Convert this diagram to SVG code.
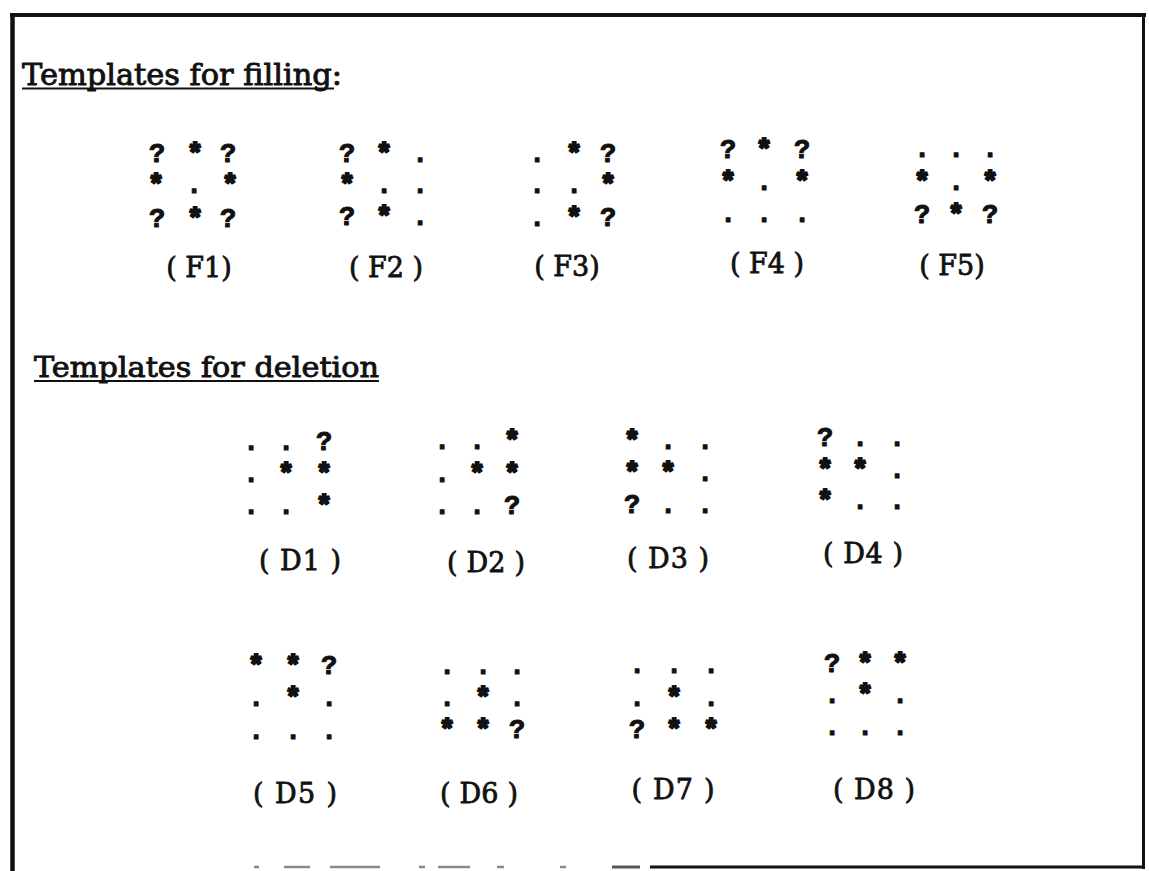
<svg xmlns="http://www.w3.org/2000/svg" width="1149" height="871" viewBox="0 0 1149 871">
<style>
.hd{font-family:"DejaVu Serif","Liberation Serif",serif;font-size:30px;fill:#111;stroke:#111;stroke-width:0.9}
.lb{font-family:"DejaVu Serif","Liberation Serif",serif;font-size:27px;fill:#111;stroke:#111;stroke-width:0.8;text-anchor:middle}
.g{font-family:"Liberation Mono","Courier New",monospace;font-weight:bold;font-size:27px;fill:#111;stroke:#111;stroke-width:1;stroke-linejoin:round;text-anchor:middle}
.s{stroke-width:2.2}
.ul{stroke:#111;stroke-width:2.2}
.bd{stroke:#111;fill:none}
</style>
<rect width="1149" height="871" fill="#fff"/>
<g id="frame">
<line class="bd" x1="10" y1="15" x2="1146" y2="15" stroke-width="4"/>
<line class="bd" x1="12.5" y1="13" x2="12.5" y2="871" stroke-width="4.5"/>
<line class="bd" x1="1143.5" y1="13" x2="1143.5" y2="869" stroke-width="3"/>
<g stroke="#888" stroke-width="2.5">
<line x1="254" y1="867" x2="259" y2="867"/>
<line x1="284" y1="867" x2="310" y2="867"/>
<line x1="330" y1="867" x2="380" y2="867"/>
<line x1="419" y1="867" x2="425" y2="867"/>
<line x1="438" y1="867" x2="470" y2="867"/>
<line x1="497" y1="867" x2="504" y2="867"/>
<line x1="560" y1="867" x2="566" y2="867"/>
</g>
<line x1="612" y1="867" x2="640" y2="867" stroke="#555" stroke-width="3"/>
<line x1="650" y1="867" x2="1145" y2="867" stroke="#111" stroke-width="3"/>
</g>
<g id="title-filling">
<text class="hd" x="22" y="85" textLength="320" lengthAdjust="spacingAndGlyphs">Templates for filling:</text>
<line class="ul" x1="22" y1="88.5" x2="334" y2="88.5"/>
</g>
<g id="title-deletion">
<text class="hd" x="34" y="377" style="font-size:28.5px" textLength="345" lengthAdjust="spacingAndGlyphs">Templates for deletion</text>
<line class="ul" x1="34" y1="381" x2="379" y2="381"/>
</g>
<g id="F1">
<text class="g" y="162"><tspan x="157">?</tspan><tspan class="s" x="195">*</tspan><tspan x="228">?</tspan></text>
<text class="g" y="193"><tspan class="s" x="156">*</tspan><tspan x="194">.</tspan><tspan class="s" x="230">*</tspan></text>
<text class="g" y="227"><tspan x="157">?</tspan><tspan class="s" x="195">*</tspan><tspan x="228">?</tspan></text>
<text class="lb" x="199" y="277">( F1)</text>
</g>
<g id="F2">
<text class="g" y="162"><tspan x="347">?</tspan><tspan class="s" x="384">*</tspan><tspan x="420">.</tspan></text>
<text class="g" y="193"><tspan class="s" x="347">*</tspan><tspan x="384">.</tspan><tspan x="420">.</tspan></text>
<text class="g" y="225"><tspan x="347">?</tspan><tspan class="s" x="384">*</tspan><tspan x="420">.</tspan></text>
<text class="lb" x="386" y="277">( F2 )</text>
</g>
<g id="F3">
<text class="g" y="162"><tspan x="537">.</tspan><tspan class="s" x="574">*</tspan><tspan x="608">?</tspan></text>
<text class="g" y="193"><tspan x="537">.</tspan><tspan x="574">.</tspan><tspan class="s" x="608">*</tspan></text>
<text class="g" y="226"><tspan x="537">.</tspan><tspan class="s" x="574">*</tspan><tspan x="608">?</tspan></text>
<text class="lb" x="567" y="276">( F3)</text>
</g>
<g id="F4">
<text class="g" y="158"><tspan x="728">?</tspan><tspan class="s" x="764">*</tspan><tspan x="802">?</tspan></text>
<text class="g" y="190"><tspan class="s" x="728">*</tspan><tspan x="764">.</tspan><tspan class="s" x="802">*</tspan></text>
<text class="g" y="222"><tspan x="728">.</tspan><tspan x="764">.</tspan><tspan x="802">.</tspan></text>
<text class="lb" x="767" y="273">( F4 )</text>
</g>
<g id="F5">
<text class="g" y="157"><tspan x="922">.</tspan><tspan x="956">.</tspan><tspan x="990">.</tspan></text>
<text class="g" y="190"><tspan class="s" x="922">*</tspan><tspan x="956">.</tspan><tspan class="s" x="990">*</tspan></text>
<text class="g" y="223"><tspan x="922">?</tspan><tspan class="s" x="956">*</tspan><tspan x="990">?</tspan></text>
<text class="lb" x="952" y="275">( F5)</text>
</g>
<g id="D1">
<text class="g" y="450"><tspan x="251">.</tspan><tspan x="286">.</tspan><tspan x="324">?</tspan></text>
<text class="g" y="482"><tspan x="251">.</tspan><tspan class="s" x="286">*</tspan><tspan class="s" x="324">*</tspan></text>
<text class="g" y="514"><tspan x="251">.</tspan><tspan x="286">.</tspan><tspan class="s" x="324">*</tspan></text>
<text class="lb" x="300" y="570" textLength="82">( D1 )</text>
</g>
<g id="D2">
<text class="g" y="449"><tspan x="442">.</tspan><tspan x="477">.</tspan><tspan class="s" x="512">*</tspan></text>
<text class="g" y="482"><tspan x="442">.</tspan><tspan class="s" x="477">*</tspan><tspan class="s" x="512">*</tspan></text>
<text class="g" y="514"><tspan x="442">.</tspan><tspan x="477">.</tspan><tspan x="512">?</tspan></text>
<text class="lb" x="486" y="572" textLength="78">( D2 )</text>
</g>
<g id="D3">
<text class="g" y="449"><tspan class="s" x="632">*</tspan><tspan x="668">.</tspan><tspan x="705">.</tspan></text>
<text class="g" y="481"><tspan class="s" x="632">*</tspan><tspan class="s" x="668">*</tspan><tspan x="705">.</tspan></text>
<text class="g" y="513"><tspan x="632">?</tspan><tspan x="668">.</tspan><tspan x="705">.</tspan></text>
<text class="lb" x="668" y="568" textLength="82">( D3 )</text>
</g>
<g id="D4">
<text class="g" y="446"><tspan x="825">?</tspan><tspan x="860">.</tspan><tspan x="897">.</tspan></text>
<text class="g" y="478"><tspan class="s" x="825">*</tspan><tspan class="s" x="860">*</tspan><tspan x="897">.</tspan></text>
<text class="g" y="509"><tspan class="s" x="825">*</tspan><tspan x="860">.</tspan><tspan x="897">.</tspan></text>
<text class="lb" x="863" y="563" textLength="80">( D4 )</text>
</g>
<g id="D5">
<text class="g" y="674"><tspan class="s" x="256">*</tspan><tspan class="s" x="293">*</tspan><tspan x="329">?</tspan></text>
<text class="g" y="706"><tspan x="256">.</tspan><tspan class="s" x="293">*</tspan><tspan x="329">.</tspan></text>
<text class="g" y="739"><tspan x="256">.</tspan><tspan x="293">.</tspan><tspan x="329">.</tspan></text>
<text class="lb" x="295" y="803" textLength="84">( D5 )</text>
</g>
<g id="D6">
<text class="g" y="674"><tspan x="447">.</tspan><tspan x="483">.</tspan><tspan x="517">.</tspan></text>
<text class="g" y="706"><tspan x="447">.</tspan><tspan class="s" x="483">*</tspan><tspan x="517">.</tspan></text>
<text class="g" y="738"><tspan class="s" x="447">*</tspan><tspan class="s" x="483">*</tspan><tspan x="517">?</tspan></text>
<text class="lb" x="479" y="803" textLength="78">( D6 )</text>
</g>
<g id="D7">
<text class="g" y="673"><tspan x="637">.</tspan><tspan x="674">.</tspan><tspan x="711">.</tspan></text>
<text class="g" y="706"><tspan x="637">.</tspan><tspan class="s" x="674">*</tspan><tspan x="711">.</tspan></text>
<text class="g" y="738"><tspan x="637">?</tspan><tspan class="s" x="674">*</tspan><tspan class="s" x="711">*</tspan></text>
<text class="lb" x="673" y="799" textLength="83">( D7 )</text>
</g>
<g id="D8">
<text class="g" y="672"><tspan x="832">?</tspan><tspan class="s" x="865">*</tspan><tspan class="s" x="900">*</tspan></text>
<text class="g" y="703"><tspan x="832">.</tspan><tspan class="s" x="865">*</tspan><tspan x="900">.</tspan></text>
<text class="g" y="735"><tspan x="832">.</tspan><tspan x="865">.</tspan><tspan x="900">.</tspan></text>
<text class="lb" x="874" y="799" textLength="82">( D8 )</text>
</g>
</svg>
